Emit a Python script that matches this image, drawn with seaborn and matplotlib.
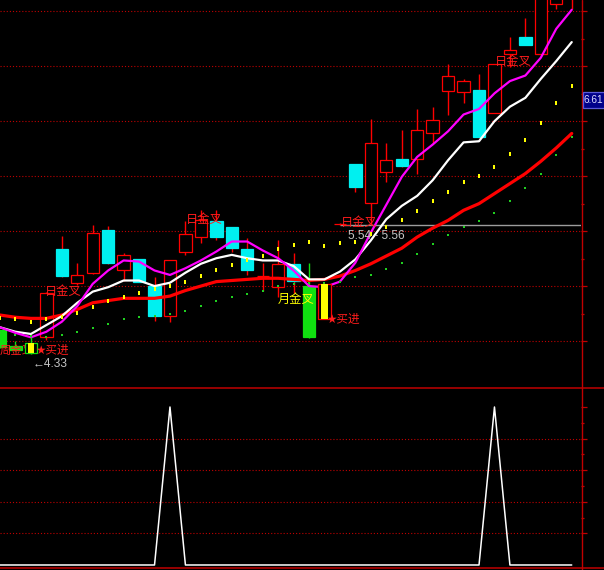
import matplotlib
matplotlib.use("Agg")
import matplotlib.pyplot as plt
import seaborn as sns
import numpy as np
import pandas as pd
from matplotlib.lines import Line2D
from matplotlib.patches import Rectangle

# ---------------- data ----------------
idx = list(range(38))
open_ = [4.55, 4.40, 4.43, 4.48, 5.27, 4.97, 5.06, 5.44, 5.08, 5.18,
         4.94, 4.67, 5.25, 5.38, 5.52, 5.47, 5.27, 5.03, 4.93, 5.14,
         4.94, 4.64, 5.50, 6.04, 5.69, 5.96, 6.08, 6.08, 6.31, 6.69,
         6.68, 6.70, 6.49, 7.02, 7.18, 7.02, 7.47, 7.53]
close = [4.39, 4.37, 4.34, 4.88, 5.03, 5.04, 5.42, 5.15, 5.22, 4.98,
         4.67, 5.17, 5.41, 5.53, 5.38, 5.28, 5.08, 5.03, 5.14, 4.99,
         4.48, 4.96, 5.50, 5.83, 6.22, 6.07, 6.02, 6.34, 6.43, 6.83,
         6.78, 6.28, 6.93, 7.06, 7.10, 7.60, 7.64, 7.78]
high = [4.55, 4.45, 4.48, 4.89, 5.39, 5.15, 5.49, 5.48, 5.24, 5.18,
        5.02, 5.17, 5.52, 5.62, 5.62, 5.47, 5.37, 5.15, 5.35, 5.24,
        5.15, 4.96, 5.51, 6.04, 6.44, 6.22, 6.34, 6.53, 6.55, 6.93,
        6.80, 6.84, 6.93, 7.18, 7.35, 7.69, 7.74, 7.85]
low = [4.38, 4.36, 4.33, 4.46, 5.02, 4.95, 5.05, 5.14, 4.99, 4.98,
       4.63, 4.62, 5.22, 5.33, 5.35, 5.25, 5.04, 4.90, 4.84, 4.88,
       4.47, 4.64, 5.49, 5.78, 5.49, 5.87, 6.01, 5.95, 6.22, 6.48,
       6.58, 6.27, 6.49, 6.91, 7.10, 7.02, 7.43, 7.43]

ma_short = [4.57, 4.52, 4.48, 4.53, 4.62, 4.76, 4.96, 5.08, 5.17, 5.16,
            5.08, 5.04, 5.10, 5.17, 5.25, 5.34, 5.34, 5.26, 5.19, 5.08,
            4.94, 4.93, 4.98, 5.15, 5.42, 5.67, 5.92, 6.10, 6.21, 6.33,
            6.48, 6.53, 6.67, 6.78, 6.83, 6.99, 7.25, 7.42]
ma_mid = [4.57, 4.53, 4.51, 4.59, 4.67, 4.79, 4.89, 4.93, 4.99, 4.99,
          4.94, 4.97, 5.06, 5.14, 5.19, 5.22, 5.19, 5.17, 5.17, 5.12,
          5.00, 5.00, 5.07, 5.18, 5.35, 5.54, 5.66, 5.75, 5.89, 6.07,
          6.23, 6.24, 6.42, 6.55, 6.63, 6.80, 6.96, 7.13]
ma_long = [4.68, 4.66, 4.65, 4.65, 4.68, 4.73, 4.79, 4.81, 4.83, 4.83,
           4.83, 4.85, 4.90, 4.94, 4.98, 4.99, 5.00, 5.01, 5.01, 5.00,
           4.99, 5.00, 5.03, 5.08, 5.14, 5.21, 5.28, 5.38, 5.46, 5.53,
           5.62, 5.68, 5.77, 5.86, 5.95, 6.06, 6.18, 6.31]
dots_upper = [4.65, 4.64, 4.62, 4.64, 4.66, 4.70, 4.75, 4.81, 4.84, 4.88,
              4.91, 4.94, 4.98, 5.03, 5.08, 5.13, 5.17, 5.21, 5.27, 5.31,
              5.34, 5.30, 5.33, 5.34, 5.41, 5.47, 5.53, 5.61, 5.70, 5.78,
              5.87, 5.93, 6.01, 6.13, 6.25, 6.40, 6.58, 6.74]
dots_lower = [4.52, 4.50, 4.49, 4.48, 4.50, 4.53, 4.56, 4.60, 4.64, 4.66,
              4.67, 4.69, 4.72, 4.76, 4.81, 4.84, 4.87, 4.90, 4.94, 4.96,
              4.97, 4.97, 4.98, 5.02, 5.04, 5.09, 5.15, 5.23, 5.32, 5.40,
              5.47, 5.52, 5.60, 5.70, 5.82, 5.95, 6.12, 6.28]
signal = [0, 0, 0, 0, 0, 0, 0, 0, 0, 0,
          0, 1, 0, 0, 0, 0, 0, 0, 0, 0,
          0, 0, 0, 0, 0, 0, 0, 0, 0, 0,
          0, 0, 1, 0, 0, 0, 0, 0]

green_bars = [0, 1, 20]
yellow_bars = [2, 21]
marker_level = 5.49
marker_start = 22
last_price = 6.61

week_labels = [(0.0, 4.36, "周金叉")]
red_labels = [(2.92, 4.89, "日金叉"), (12.04, 5.54, "日金叉"),
              (22.07, 5.51, "日金叉"), (32.04, 6.96, "日金叉")]
buy_labels = [(2.25, 4.36, "★买进"), (21.1, 4.64, "★买进")]
month_labels = [(18.0, 4.82, "月金叉")]
grey_labels = [(2.1, 4.24, "←4.33"), (22.53, 5.39, "5.54 - 5.56")]

# ---------------- style ----------------
sns.set_theme(style="dark", rc={"axes.facecolor": "black", "figure.facecolor": "black",
                                "savefig.facecolor": "black"})
plt.rcParams['font.family'] = ['DejaVu Sans', 'Noto Sans CJK SC']

RED = '#ff0000'
AXRED = '#c00000'
GRIDRED = '#c00000'
CYAN = '#00f0f0'
GREEN = '#10e010'
YELLOW = '#ffff00'
MAGENTA = '#ff00ff'
TEXTRED = '#ff1c1c'
GREY = '#c4c4c4'
NUMFONT = ['Liberation Sans', 'DejaVu Sans']
CJK = ['Noto Sans CJK SC']

W, H = 604, 570
fig = plt.figure(figsize=(W / 100, H / 100), dpi=100, facecolor='black')
ax1 = fig.add_axes([0, 1 - 387 / H, 581 / W, 387 / H])
ax2 = fig.add_axes([0, 3 / H, 581 / W, 180 / H])

df = pd.DataFrame({"i": idx, "open": open_, "close": close, "high": high, "low": low,
                   "ma_short": ma_short, "ma_mid": ma_mid, "ma_long": ma_long,
                   "dots_upper": dots_upper, "dots_lower": dots_lower, "signal": signal})

XMAX = 37.6
for ax in (ax1, ax2):
    ax.set_facecolor('black')
    ax.grid(False)
    for s in ax.spines.values():
        s.set_visible(False)
    ax.set_xlim(0, XMAX)
    ax.set_xticks([])
    ax.tick_params(axis='x', length=0)

ax1.set_ylim(4.034, 7.508)
ax2.set_ylim(-0.0127, 1.1266)

# grid lines (dotted red)
grid_levels = 4.447 + 0.4935 * np.arange(7)
minor_levels = grid_levels[:-1] + 0.4935 / 2
ax1.hlines(grid_levels, 0, XMAX, colors=GRIDRED, linestyles=(0, (1, 1.8)), linewidth=0.8, zorder=0.5)
low_grid = [0.2, 0.4, 0.6, 0.8]
ax2.hlines(low_grid, 0, XMAX, colors=GRIDRED, linestyles=(0, (1, 1.8)), linewidth=0.8, zorder=0.5)

# ticks on right
for ax, maj, mnr in ((ax1, grid_levels, minor_levels),
                     (ax2, [0.2, 0.4, 0.6, 0.8, 1.0], [0.3, 0.5, 0.7, 0.9])):
    ax.yaxis.tick_right()
    ax.set_yticks(maj)
    ax.set_yticks(mnr, minor=True)
    ax.tick_params(axis='y', which='both', colors=AXRED, labelright=False, labelleft=False,
                   direction='out', width=0.9)
    ax.tick_params(axis='y', which='major', length=4.0)
    ax.tick_params(axis='y', which='minor', length=2.2)

# ---------------- candles ----------------
x = df["i"].to_numpy()
o = df["open"].to_numpy()
c = df["close"].to_numpy()
hi = df["high"].to_numpy()
lo = df["low"].to_numpy()
up = c >= o
face, edge, wick = [], [], []
for i in idx:
    if i in green_bars:
        f, e, w = GREEN, GREEN, GREEN
    elif i in yellow_bars:
        e = RED if up[i] else GREEN
        f, w = 'black', e
    elif up[i]:
        f, e, w = 'black', RED, RED
    else:
        f, e, w = CYAN, CYAN, RED
    face.append(f); edge.append(e); wick.append(w)

normal = [i for i in idx if i not in yellow_bars]
ax1.vlines(x[normal], lo[normal], hi[normal],
           colors=[wick[i] for i in normal], linewidth=1.0, zorder=2)
ax1.bar(x[normal], (c - o)[normal], bottom=o[normal], width=0.8,
        color=[face[i] for i in normal], edgecolor=[edge[i] for i in normal],
        linewidth=0.9, zorder=2.5)
# signal candles (drawn on top)
ax1.vlines(x[yellow_bars], lo[yellow_bars], hi[yellow_bars],
           colors=[wick[i] for i in yellow_bars], linewidth=1.0, zorder=5.8)
ax1.bar(x[yellow_bars], (c - o)[yellow_bars], bottom=o[yellow_bars], width=0.8,
        color='black', edgecolor=[edge[i] for i in yellow_bars], linewidth=0.9, zorder=6)
ax1.bar(x[yellow_bars], (c - o)[yellow_bars], bottom=o[yellow_bars], width=0.42,
        color=YELLOW, linewidth=0, zorder=6.1)

# reference price line
ax1.hlines(marker_level, marker_start, XMAX, colors='#9c9c9c', linewidth=1.0, zorder=1.8)

# ---------------- moving averages & dots ----------------
sns.lineplot(data=df, x="i", y="ma_long", ax=ax1, color=RED, linewidth=2.3,
             errorbar=None, legend=False, zorder=3)
sns.lineplot(data=df, x="i", y="ma_mid", ax=ax1, color='white', linewidth=1.6,
             errorbar=None, legend=False, zorder=3.1)
sns.lineplot(data=df, x="i", y="ma_short", ax=ax1, color=MAGENTA, linewidth=1.6,
             errorbar=None, legend=False, zorder=3.2)
bar_marker = [(-0.25, -1), (0.25, -1), (0.25, 1), (-0.25, 1)]
sns.scatterplot(data=df, x="i", y="dots_upper", ax=ax1, color=YELLOW, marker=bar_marker,
                s=9, linewidth=0, zorder=4, legend=False)
sns.scatterplot(data=df, x="i", y="dots_lower", ax=ax1, color='#20d020', marker='s',
                s=3.5, linewidth=0, zorder=4, legend=False)
ax1.set_xlabel(""); ax1.set_ylabel("")

# ---------------- lower panel ----------------
sns.lineplot(data=df, x="i", y="signal", ax=ax2, color='white', linewidth=1.1,
             errorbar=None, legend=False, zorder=3)
ax2.set_xlabel(""); ax2.set_ylabel("")

# ---------------- texts ----------------
for xx, yy, s in week_labels:
    ax1.text(xx, yy, s, ha='left', va='center', fontsize=8.2, color=TEXTRED,
             family=CJK, zorder=5)
for xx, yy, s in red_labels:
    ax1.text(xx, yy, s, ha='left', va='center', fontsize=8.8, color=TEXTRED,
             family=CJK, zorder=5)
for xx, yy, s in month_labels:
    ax1.text(xx, yy, s, ha='left', va='center', fontsize=8.8, color=YELLOW,
             family=CJK, zorder=5)
for xx, yy, s in buy_labels:
    ax1.text(xx, yy, s, ha='left', va='center', fontsize=8.4, color=TEXTRED,
             family=['DejaVu Sans', 'Noto Sans CJK SC'], zorder=7)
for xx, yy, s in grey_labels:
    ax1.text(xx, yy, s, ha='left', va='center', fontsize=8.6, color=GREY,
             family=['Liberation Sans', 'DejaVu Sans'], zorder=5)

# last price box at right axis
ypix = ax1.transData.transform((0, last_price))[1]
yfrac = ypix / H
fig.add_artist(Rectangle((582.5 / W, yfrac - 8 / H), 30 / W, 16 / H, transform=fig.transFigure,
                         facecolor='#00008a', edgecolor='#5a5ad8', linewidth=0.9, zorder=10))
fig.text(583.2 / W, yfrac, f"{last_price:.2f}", ha='left', va='center', fontsize=7.3,
         color='#dcdcff', family=NUMFONT, zorder=11)

# frame lines
fig.add_artist(Line2D([581.5 / W] * 2, [0, 1], transform=fig.transFigure, color=AXRED, lw=1.0))
fig.add_artist(Line2D([0, 1], [1 - 387.5 / H] * 2, transform=fig.transFigure, color=AXRED, lw=1.1))
fig.add_artist(Line2D([0, 1], [1 - 567.5 / H] * 2, transform=fig.transFigure, color=AXRED, lw=1.1))

fig.savefig("out.png", dpi=100, facecolor='black')
